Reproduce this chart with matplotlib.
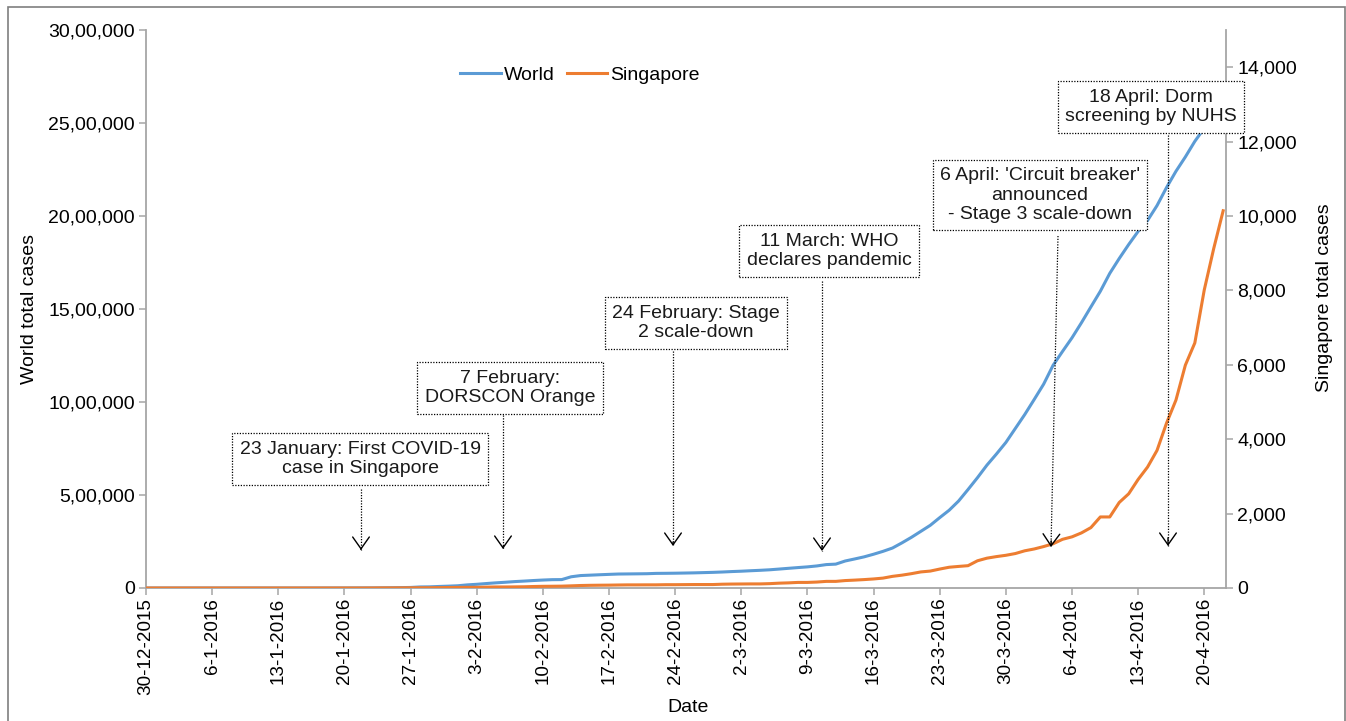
import matplotlib
matplotlib.use("Agg")
import matplotlib.pyplot as plt
from matplotlib.patches import Rectangle
from matplotlib.ticker import FuncFormatter, MultipleLocator
import pandas as pd

plt.rcParams['font.family'] = ['Liberation Sans', 'DejaVu Sans']

# one value per day, 30-12-2015 .. 22-4-2016
dates = pd.date_range('2015-12-30', '2016-04-22')

world = [0, 27, 27, 27, 44, 44, 59, 59, 59, 59,
         59, 59, 59, 59, 60, 60, 61, 61, 62, 121,
         198, 291, 440, 555, 654, 941, 1434, 2118, 2927, 5578,
         6166, 8234, 9927, 12038, 16787, 19881, 23892, 27635, 30794, 34391,
         37120, 40150, 42762, 44802, 45221, 60368, 66885, 69030, 71224, 73258,
         75136, 75639, 76197, 76819, 78572, 78958, 79561, 80406, 81388, 82746,
         84112, 86011, 88369, 90306, 92840, 95120, 97886, 101801, 105847, 109821,
         113590, 118620, 125875, 128352, 145205, 156101, 167454, 181574, 197102, 214821,
         242570, 272208, 304507, 336953, 378235, 418045, 467653, 529591, 593291, 660706,
         720117, 782365, 857487, 932605, 1013466, 1095917, 1197405, 1272115, 1345048, 1426096,
         1511104, 1595350, 1691719, 1771514, 1846680, 1917320, 1976191, 2056054, 2152437, 2240190,
         2317759, 2401379, 2472259, 2549123, 2623960]

singapore = [0, 0, 0, 0, 0, 0, 0, 0, 0, 0,
             0, 0, 0, 0, 0, 0, 0, 0, 0, 0,
             0, 0, 0, 0, 1, 3, 3, 4, 5, 7,
             7, 10, 13, 16, 18, 18, 24, 28, 28, 30,
             33, 40, 45, 47, 50, 58, 67, 72, 75, 77,
             81, 84, 84, 85, 85, 89, 89, 91, 93, 93,
             93, 102, 106, 108, 110, 110, 117, 130, 138, 150,
             150, 160, 178, 178, 200, 212, 226, 243, 266, 313,
             345, 385, 432, 455, 509, 558, 580, 600, 732, 802,
             844, 879, 926, 1000, 1049, 1114, 1189, 1309, 1375, 1481,
             1623, 1910, 1910, 2299, 2532, 2918, 3252, 3699, 4427, 5050,
             5992, 6588, 8014, 9125, 10141]

events = ["23 January: First COVID-19\ncase in Singapore",
          "7 February:\nDORSCON Orange",
          "24 February: Stage\n2 scale-down",
          "11 March: WHO\ndeclares pandemic",
          "6 April: 'Circuit breaker'\nannounced\n- Stage 3 scale-down",
          "18 April: Dorm\nscreening by NUHS"]

# ---- layout (figure pixels) ----
W, H = 1346, 721
AX_L, AX_R, AX_T, AX_B = 146, 1226, 30, 588
# text centre x, y ; line top x, y ; arrow tip x, y
callouts = [(360, 459, 361, 489, 361, 550),
            (510, 388, 503, 415, 503, 549),
            (696, 323, 673, 351, 673, 546),
            (829, 251, 822, 281, 822, 551),
            (1040, 195, 1058, 236, 1051, 547),
            (1151, 107, 1168, 135, 1168, 546)]

BLUE = '#5b9bd5'
ORANGE = '#ed7d31'
GREY = '#a6a6a6'
FS = 14


def frac(px, py):
    return (px - AX_L) / (AX_R - AX_L), (AX_B - py) / (AX_B - AX_T)


def indian(v, pos=None):
    s = str(int(round(v)))
    if len(s) <= 3:
        return s
    head, tail = s[:-3], s[-3:]
    parts = []
    while len(head) > 2:
        parts.insert(0, head[-2:])
        head = head[:-2]
    if head:
        parts.insert(0, head)
    return ",".join(parts + [tail])


fig = plt.figure(figsize=(W / 100, H / 100), dpi=100)
ax = fig.add_axes([AX_L / W, 1 - AX_B / H, (AX_R - AX_L) / W, (AX_B - AX_T) / H])
ax2 = ax.twinx()

l1, = ax.plot(dates, world, color=BLUE, lw=2.2, label='World')
l2, = ax2.plot(dates, singapore, color=ORANGE, lw=2.2, label='Singapore')

ax.set_xlim(dates[0], dates[0] + pd.Timedelta(days=114.3))
ax.set_ylim(0, 3000000)
ax2.set_ylim(0, 15000)
ax.yaxis.set_major_locator(MultipleLocator(500000))
ax.yaxis.set_major_formatter(FuncFormatter(indian))
ax2.set_yticks(range(0, 14001, 2000))
ax2.yaxis.set_major_formatter(FuncFormatter(lambda v, p: f"{int(v):,}"))

ticks = dates[::7]
ax.set_xticks(ticks)
ax.set_xticklabels([f"{d.day}-{d.month}-{d.year}" for d in ticks], rotation=90)

for a in (ax, ax2):
    for s in a.spines.values():
        s.set_visible(False)
ax.spines['left'].set_visible(True)
ax.spines['bottom'].set_visible(True)
ax2.spines['right'].set_visible(True)
for s in (ax.spines['left'], ax.spines['bottom'], ax2.spines['right']):
    s.set_color(GREY)
    s.set_linewidth(1.3)

ax.tick_params(axis='both', direction='out', length=5, width=1.1, color=GREY,
               labelsize=FS, labelcolor='black', pad=3)
ax.tick_params(axis='x', labelsize=13.6, pad=2)
ax2.tick_params(axis='y', direction='out', length=5, width=1.1, color=GREY,
                labelsize=FS, labelcolor='black', pad=3)

ax.set_ylabel('World total cases', fontsize=FS)
ax.yaxis.set_label_coords(*frac(38, 309))
ax2.set_ylabel('Singapore total cases', fontsize=FS)
ax2.yaxis.set_label_coords(*frac(1316, 298))
ax.set_xlabel('Date', fontsize=FS)
ax.xaxis.set_label_coords(*frac(688, 699))

ax2.legend([l1, l2], ['World', 'Singapore'], loc='center', bbox_to_anchor=frac(580, 75),
           ncol=2, frameon=False, fontsize=FS, handlelength=2.1, handletextpad=0.15,
           columnspacing=0.6)

dots = (0, (1, 1.2))
for text, (cx, cy, tx, ty, px, py) in zip(events, callouts):
    ax2.text(*frac(cx, cy), text, transform=ax2.transAxes, ha='center', va='center',
             fontsize=FS, color='#1a1a1a', linespacing=1.2, zorder=6,
             bbox=dict(boxstyle='square,pad=0.38', fc='white', ec='black', lw=0.9, ls=dots))
    x0, y0 = frac(tx, ty)
    x1, y1 = frac(px, py)
    ax2.plot([x0, x1], [y0, y1], transform=ax2.transAxes, color='black', lw=0.9,
             ls=dots, zorder=5, clip_on=False)
    ax2.annotate('', xy=(x1, y1), xycoords='axes fraction',
                 xytext=((tx - px) * 0.02, (py - ty) * 0.02 * 0.72), textcoords='offset points',
                 arrowprops=dict(arrowstyle='->,head_length=0.85,head_width=0.6', lw=1.0,
                                 color='black', shrinkA=0, shrinkB=0, mutation_scale=10),
                 zorder=5)

fig.add_artist(Rectangle((8 / W, -0.01), 1337 / W, 1 - 7 / H + 0.01, transform=fig.transFigure,
                         fill=False, ec='#7f7f7f', lw=1.2))

fig.savefig('out.png', dpi=100)
